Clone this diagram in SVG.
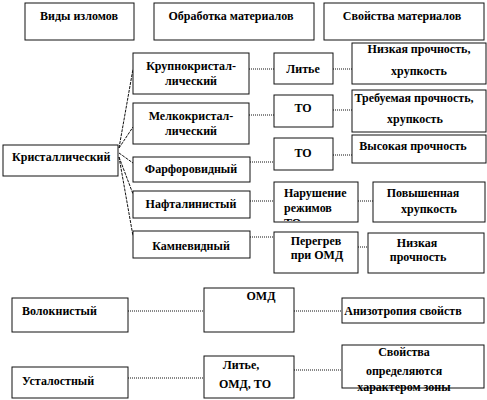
<svg xmlns="http://www.w3.org/2000/svg" width="487" height="400" viewBox="0 0 487 400">
<style>
.b{fill:#fff;stroke:#111;stroke-width:1}
.t{font-family:"Liberation Serif","DejaVu Serif","Times New Roman",serif;font-weight:bold;font-size:12px;fill:#000;text-anchor:middle}
.s{text-anchor:start}
.c{fill:none;stroke:#111;stroke-width:1;stroke-dasharray:1 1}
.f{fill:none;stroke:#111;stroke-width:1;stroke-dasharray:3 1}
</style>
<defs><clipPath id="cl"><rect x="274" y="182" width="84" height="39"/></clipPath></defs>
<rect width="487" height="400" fill="#fff"/>
<g id="connectors">
<path class="f" d="M119,148 L133,69 M119,148 L133,127 M119,153 L133,163 M119,157 L133,194 M119,157 L133,236"/>
<path class="c" d="M249,69 H274 M333,69 H352 M249,115 H274 M333,110 H352 M250,162 H274 M333,155 H352 M250,201 H274 M358,201 H373 M250,237 H274 M358,247 H368 M128,311 H204 M294,311 H342 M128,378 H204 M294,370 H342"/>
</g>
<g id="h1"><rect class="b" x="25" y="3" width="109" height="37"/><text class="t" x="79" y="20">Виды изломов</text></g>
<g id="h2"><rect class="b" x="154" y="3" width="160" height="37"/><text class="t" x="231" y="20">Обработка материалов</text></g>
<g id="h3"><rect class="b" x="324" y="3" width="160" height="37"/><text class="t" x="402" y="20">Свойства материалов</text></g>
<g id="kristal"><rect class="b" x="3" y="145" width="115" height="31"/><text class="t s" x="12" y="161">Кристаллический</text></g>
<g id="krupno"><rect class="b" x="133" y="53" width="116" height="41"/><text class="t" x="191" y="70">Крупнокристал-</text><text class="t" x="191" y="85">лический</text></g>
<g id="melko"><rect class="b" x="133" y="103" width="116" height="41"/><text class="t" x="191" y="120">Мелкокристал-</text><text class="t" x="191" y="135">лический</text></g>
<g id="farfor"><rect class="b" x="133" y="157" width="117" height="25"/><text class="t" x="191" y="173">Фарфоровидный</text></g>
<g id="naftal"><rect class="b" x="133" y="191" width="117" height="27"/><text class="t" x="191" y="208">Нафталинистый</text></g>
<g id="kamnev"><rect class="b" x="133" y="231" width="117" height="27"/><text class="t" x="191" y="250">Камневидный</text></g>
<g id="litye1"><rect class="b" x="274" y="53" width="59" height="31"/><text class="t" x="303" y="73">Литье</text></g>
<g id="to1"><rect class="b" x="274" y="95" width="59" height="32"/><text class="t" x="303" y="112">ТО</text></g>
<g id="to2"><rect class="b" x="274" y="138" width="59" height="32"/><text class="t" x="303" y="157">ТО</text></g>
<g id="narush"><rect class="b" x="274" y="182" width="84" height="40"/><g clip-path="url(#cl)"><text class="t s" x="284" y="197">Нарушение</text><text class="t s" x="284" y="212">режимов</text><text class="t s" x="284" y="227">ТО</text></g></g>
<g id="peregrev"><rect class="b" x="274" y="232" width="84" height="41"/><text class="t" x="316" y="245">Перегрев</text><text class="t" x="317" y="259">при ОМД</text></g>
<g id="nizk1"><rect class="b" x="352" y="43" width="134" height="41"/><text class="t" x="419" y="53">Низкая прочность,</text><text class="t" x="419" y="75">хрупкость</text></g>
<g id="treb"><rect class="b" x="352" y="90" width="134" height="42"/><text class="t" x="414" y="102">Требуемая прочность,</text><text class="t" x="415" y="123">хрупкость</text></g>
<g id="vysok"><rect class="b" x="352" y="135" width="134" height="28"/><text class="t" x="413" y="150">Высокая прочность</text></g>
<g id="povysh"><rect class="b" x="373" y="182" width="112" height="40"/><text class="t" x="423" y="197">Повышенная</text><text class="t" x="429" y="213">хрупкость</text></g>
<g id="nizk2"><rect class="b" x="368" y="233" width="116" height="40"/><text class="t" x="417" y="247">Низкая</text><text class="t" x="418" y="261">прочность</text></g>
<g id="volokn"><rect class="b" x="12" y="298" width="116" height="34"/><text class="t s" x="22" y="315">Волокнистый</text></g>
<g id="omd"><rect class="b" x="204" y="288" width="90" height="44"/><text class="t" x="261" y="300">ОМД</text></g>
<g id="aniso"><rect class="b" x="342" y="298" width="142" height="25"/><text class="t" x="403" y="315">Анизотропия свойств</text></g>
<g id="ustal"><rect class="b" x="12" y="367" width="116" height="31"/><text class="t s" x="22" y="385">Усталостный</text></g>
<g id="litye2"><rect class="b" x="204" y="356" width="90" height="42"/><text class="t" x="241" y="369">Литье,</text><text class="t" x="245" y="388">ОМД, ТО</text></g>
<g id="svoistva"><rect class="b" x="342" y="345" width="142" height="43"/><text class="t" x="404" y="356">Свойства</text><text class="t" x="404" y="375">определяются</text><text class="t" x="404" y="391">характером зоны</text></g>
</svg>
